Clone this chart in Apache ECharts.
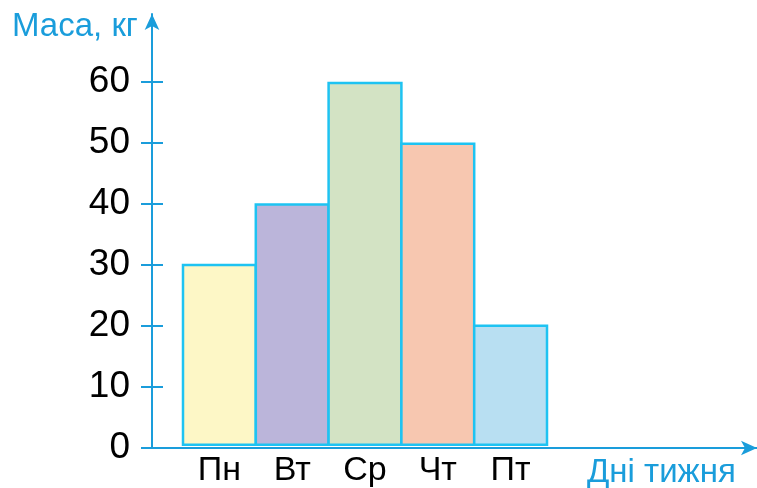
<!DOCTYPE html>
<html>
<head>
<meta charset="utf-8">
<script src="https://cdn.jsdelivr.net/npm/echarts@6/dist/echarts.min.js"></script>
<style>html,body{margin:0;padding:0;background:#fff}#c{width:757px;height:488px}</style>
</head>
<body>
<div id="c"></div>
<script>
const days = ['Пн', 'Вт', 'Ср', 'Чт', 'Пт'];
const mass = [30, 40, 60, 50, 20];
const yTicks = [0, 10, 20, 30, 40, 50, 60];
const yName = 'Маса, кг';
const xName = 'Дні тижня';

const fills = ['#fdf7c6', '#bbb5da', '#d3e3c4', '#f7c7b0', '#b8dff2'];
const axisBlue = '#1a9ddb';
const edgeBlue = '#1ec3f2';
const font = 'Liberation Sans, Arial, sans-serif';
const yMax = 71.15;
const barBorder = 2.5;
const barsWidth = 364;

const chart = echarts.init(document.getElementById('c'), null, {renderer: 'canvas'});
chart.setOption({
  animation: false,
  title: [
    {text: yName, left: 7, top: 5, textStyle: {color: axisBlue, fontSize: 33, fontWeight: 'normal', fontFamily: font}},
    {text: xName, left: 582, top: 451, textStyle: {color: axisBlue, fontSize: 33, fontWeight: 'normal', fontFamily: font}}
  ],
  grid: [
    {left: 152, top: 14, right: 0, bottom: 40},
    {left: 183, top: 14, width: barsWidth, bottom: 40},
    {left: 152, top: 14, right: 0, bottom: 40}
  ],
  xAxis: [
    {gridIndex: 0, type: 'value', min: 0, max: 1,
     axisLine: {show: true, symbol: ['none', 'arrow'], symbolSize: [11, 16], lineStyle: {color: axisBlue, width: 2}},
     axisTick: {show: false}, axisLabel: {show: false}, splitLine: {show: false}},
    {gridIndex: 1, type: 'category', data: days, boundaryGap: true,
     axisLine: {show: false}, axisTick: {show: false},
     axisLabel: {color: '#000', fontSize: 34, fontFamily: font, margin: 8}},
    {gridIndex: 2, type: 'value', min: 0, max: 1, show: false}
  ],
  yAxis: [
    {gridIndex: 0, type: 'value', min: 0, max: yMax, interval: 10,
     axisLine: {show: true, symbol: ['none', 'arrow'], symbolSize: [11, 16], lineStyle: {color: axisBlue, width: 2}},
     axisTick: {show: true, length: 11, customValues: yTicks, lineStyle: {color: axisBlue, width: 2}},
     axisLabel: {show: true, customValues: yTicks, color: '#000', fontSize: 37, fontFamily: font, margin: 22},
     splitLine: {show: false}},
    {gridIndex: 1, type: 'value', min: 0, max: yMax, interval: 10, show: false},
    {gridIndex: 2, type: 'value', min: 0, max: yMax, interval: 10,
     axisLine: {show: false},
     axisTick: {show: true, inside: true, length: 11, customValues: yTicks, lineStyle: {color: axisBlue, width: 2}},
     axisLabel: {show: false}, splitLine: {show: false}}
  ],
  series: [{
    type: 'bar', xAxisIndex: 1, yAxisIndex: 1,
    data: mass,
    barWidth: barsWidth / days.length + barBorder, barCategoryGap: 0,
    itemStyle: {
      color: p => fills[p.dataIndex],
      borderColor: edgeBlue, borderWidth: barBorder
    }
  }]
});
</script>
</body>
</html>
